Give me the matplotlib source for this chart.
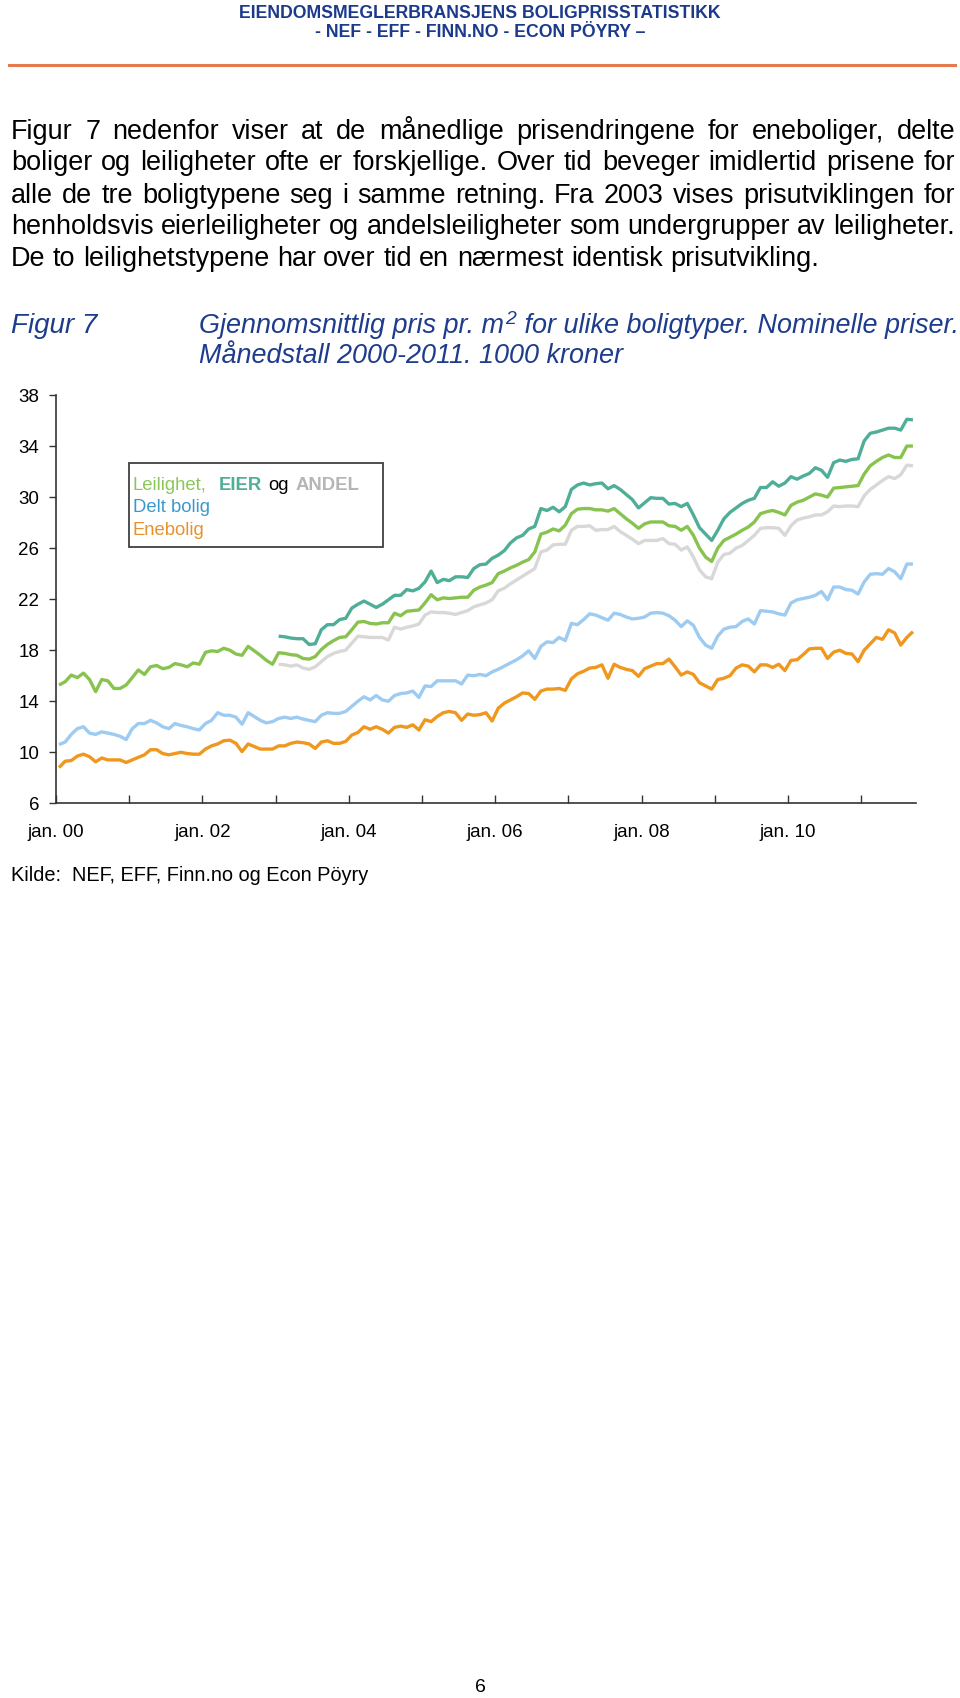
import matplotlib
matplotlib.use('Agg')
import matplotlib.pyplot as plt
from matplotlib.patches import Rectangle
from matplotlib.lines import Line2D

# ---------------- data (1000 kr per m2, monthly Jan 2000 - Sep 2011) ----------------
leilighet = [15.27,15.53,16.05,15.85,16.2,15.7,14.75,15.7,15.6,15.0,
             15.0,15.27,15.85,16.45,16.1,16.7,16.8,16.55,16.65,16.95,
             16.85,16.7,17.0,16.9,17.83,17.95,17.9,18.15,18.0,17.7,
             17.6,18.3,17.95,17.6,17.2,16.9,17.8,17.75,17.65,17.6,
             17.35,17.3,17.5,18.05,18.45,18.75,19.0,19.05,19.6,20.2,
             20.25,20.1,20.05,20.15,20.15,20.9,20.7,21.05,21.1,21.15,
             21.7,22.35,21.95,22.1,22.05,22.1,22.15,22.15,22.7,22.95,
             23.1,23.3,24.0,24.2,24.45,24.65,24.9,25.1,25.7,27.1,
             27.25,27.5,27.35,27.8,28.7,29.05,29.1,29.1,29.0,29.0,
             28.9,29.1,28.7,28.3,27.95,27.55,27.9,28.05,28.05,28.05,
             27.75,27.7,27.4,27.7,27.0,26.0,25.3,24.95,26.0,26.6,
             26.85,27.1,27.4,27.65,28.05,28.7,28.85,28.95,28.8,28.6,
             29.35,29.6,29.75,30.0,30.25,30.15,30.0,30.7,30.75,30.8,
             30.85,30.9,31.8,32.45,32.8,33.1,33.3,33.1,33.1,34.0,34.0]

eier_start = 36  # EIER / ANDEL series start Jan 2003
eier = [19.1,19.05,18.95,18.9,18.9,18.45,18.5,19.6,20.0,20.0,
        20.4,20.5,21.3,21.6,21.85,21.6,21.35,21.6,21.95,22.3,
        22.3,22.75,22.65,22.85,23.35,24.2,23.3,23.55,23.45,23.75,
        23.75,23.7,24.4,24.7,24.75,25.2,25.45,25.8,26.4,26.8,
        27.0,27.5,27.7,29.1,28.95,29.2,28.85,29.25,30.6,30.95,
        31.1,30.95,31.05,31.1,30.65,30.9,30.6,30.2,29.8,29.15,
        29.55,29.95,29.9,29.9,29.45,29.5,29.25,29.5,28.6,27.6,
        27.1,26.6,27.4,28.3,28.8,29.15,29.5,29.75,29.9,30.75,
        30.75,31.2,30.85,31.1,31.6,31.4,31.65,31.85,32.3,32.1,
        31.55,32.7,32.9,32.8,32.95,33.0,34.4,35.0,35.1,35.25,
        35.4,35.4,35.25,36.1,36.05]

andel = [16.9,16.85,16.75,16.85,16.6,16.5,16.7,17.1,17.5,17.75,
         17.9,18.0,18.55,19.1,19.05,19.0,19.0,19.0,18.8,19.8,
         19.65,19.8,19.9,20.05,20.75,21.0,20.95,20.95,20.9,20.8,
         20.95,21.1,21.4,21.55,21.7,21.95,22.65,22.85,23.2,23.5,
         23.8,24.1,24.4,25.7,25.85,26.25,26.3,26.3,27.4,27.7,
         27.7,27.75,27.4,27.45,27.45,27.7,27.3,27.0,26.7,26.35,
         26.6,26.6,26.6,26.75,26.35,26.3,25.85,26.1,25.3,24.3,
         23.75,23.6,24.9,25.5,25.6,26.0,26.2,26.6,27.0,27.55,
         27.6,27.6,27.55,27.0,27.75,28.2,28.35,28.45,28.6,28.6,
         28.85,29.3,29.25,29.3,29.3,29.25,30.1,30.6,30.95,31.3,
         31.6,31.45,31.75,32.5,32.45]

delt_bolig = [10.6,10.8,11.4,11.85,12.0,11.5,11.4,11.6,11.5,11.4,
              11.25,11.0,11.85,12.25,12.25,12.5,12.3,12.0,11.85,12.25,
              12.1,12.0,11.85,11.75,12.25,12.5,13.1,12.9,12.9,12.75,
              12.2,13.1,12.8,12.5,12.3,12.4,12.65,12.75,12.65,12.75,
              12.6,12.5,12.4,12.9,13.1,13.05,13.05,13.2,13.6,14.0,
              14.35,14.1,14.45,14.1,14.0,14.45,14.6,14.65,14.8,14.3,
              15.2,15.15,15.6,15.6,15.6,15.6,15.35,16.05,16.0,16.1,
              16.0,16.3,16.5,16.75,17.0,17.25,17.55,17.95,17.35,18.3,
              18.65,18.6,19.0,18.75,20.1,20.0,20.4,20.85,20.75,20.55,
              20.35,20.9,20.8,20.6,20.45,20.5,20.6,20.9,20.95,20.9,
              20.7,20.35,19.85,20.3,19.95,19.0,18.4,18.15,19.1,19.65,
              19.8,19.85,20.25,20.45,20.05,21.1,21.05,21.0,20.85,20.75,
              21.7,21.95,22.05,22.15,22.3,22.6,21.95,22.95,22.95,22.75,
              22.7,22.4,23.35,23.95,24.0,23.95,24.4,24.15,23.6,24.75,24.75]

enebolig = [8.8,9.3,9.35,9.7,9.85,9.65,9.25,9.55,9.4,9.4,
            9.4,9.2,9.4,9.6,9.8,10.2,10.2,9.9,9.8,9.9,
            10.0,9.9,9.85,9.85,10.25,10.5,10.65,10.9,10.95,10.7,
            10.05,10.65,10.45,10.25,10.25,10.25,10.5,10.5,10.7,10.8,
            10.75,10.65,10.3,10.8,10.9,10.7,10.7,10.85,11.35,11.55,
            12.0,11.8,12.0,11.8,11.5,11.95,12.05,11.95,12.15,11.75,
            12.55,12.4,12.8,13.1,13.2,13.1,12.5,13.0,12.9,12.95,
            13.1,12.45,13.45,13.85,14.1,14.35,14.65,14.6,14.15,14.8,
            14.95,14.95,15.0,14.85,15.75,16.15,16.35,16.6,16.65,16.85,
            15.8,16.9,16.65,16.5,16.4,15.95,16.55,16.75,16.95,16.95,
            17.3,16.7,16.05,16.3,16.1,15.45,15.2,14.95,15.7,15.8,
            16.0,16.6,16.85,16.75,16.3,16.85,16.85,16.65,16.9,16.4,
            17.2,17.25,17.65,18.1,18.15,18.15,17.35,17.85,18.0,17.75,
            17.7,17.1,18.0,18.5,19.0,18.85,19.6,19.35,18.4,19.0,19.45]

year_labels = ['jan. 00', '', 'jan. 02', '', 'jan. 04', '', 'jan. 06', '',
               'jan. 08', '', 'jan. 10', '']
y_ticks = [6, 10, 14, 18, 22, 26, 30, 34, 38]

# ---------------- figure ----------------
W, H = 960, 1698
plt.rcParams['font.family'] = ['Liberation Sans', 'DejaVu Sans']
fig = plt.figure(figsize=(W / 100, H / 100), dpi=100)
renderer = fig.canvas.get_renderer()


def fx(x):
    return x / W


def fy(y):
    return 1 - y / H


def txt(x, y, s, **kw):
    kw.setdefault('va', 'baseline')
    return fig.text(fx(x), fy(y), s, **kw)


def wpx(t):
    return t.get_window_extent(renderer).width


def fitted(x, y, s, target, size0, **kw):
    t = txt(x, y, s, fontsize=size0, **kw)
    t.set_fontsize(size0 * target / wpx(t))
    return t


NAVY = '#1B3A8C'

# header
fitted(480, 17.5, 'EIENDOMSMEGLERBRANSJENS BOLIGPRISSTATISTIKK', 481, 12,
       ha='center', color=NAVY, fontweight='bold',
       family=['Liberation Sans Narrow', 'Liberation Sans'])
fitted(480, 37, '- NEF - EFF - FINN.NO - ECON PÖYRY \u2013', 330, 12,
       ha='center', color=NAVY, fontweight='bold',
       family=['Liberation Sans Narrow', 'Liberation Sans'])
fig.add_artist(Line2D([fx(9), fx(955)], [fy(65), fy(65)], color='#E5794F',
                      lw=2.2, transform=fig.transFigure))

# body paragraph (justified)
body = ["Figur 7 nedenfor viser at de månedlige prisendringene for eneboliger, delte",
        "boliger og leiligheter ofte er forskjellige. Over tid beveger imidlertid prisene for",
        "alle de tre boligtypene seg i samme retning. Fra 2003 vises prisutviklingen for",
        "henholdsvis eierleiligheter og andelsleiligheter som undergrupper av leiligheter.",
        "De to leilighetstypene har over tid en nærmest identisk prisutvikling."]
probe = txt(0, 0, body[-1], fontsize=16)
body_fs = 16 * 808 / wpx(probe)
probe.remove()
L, R = 11, 955
baselines = [139, 170.5, 203, 234.5, 266]
for k, line in enumerate(body):
    words = line.split(' ')
    ts = [txt(0, baselines[k], w, fontsize=body_fs, color='black') for w in words]
    ws = [wpx(t) for t in ts]
    if k < len(body) - 1:
        gap = (R - L - sum(ws)) / (len(words) - 1)
    else:
        a = txt(0, 0, 'a a', fontsize=body_fs)
        b = txt(0, 0, 'aa', fontsize=body_fs)
        gap = wpx(a) - wpx(b)
        a.remove(); b.remove()
    x = L
    for t, w in zip(ts, ws):
        t.set_position((fx(x), fy(baselines[k])))
        x += w + gap

# figure title
TBLUE = '#1E3C8C'
txt(11, 333, 'Figur 7', fontsize=body_fs * 1.03, style='italic', color=TBLUE)
pa = txt(199, 333, 'Gjennomsnittlig pris pr. m', fontsize=body_fs,
         style='italic', color=TBLUE)
xa = 199 + wpx(pa)
sup = txt(xa + 1, 324, '2', fontsize=body_fs * 0.72, style='italic', color=TBLUE)
xb = xa + 1 + wpx(sup) + 1
txt(xb, 333, ' for ulike boligtyper. Nominelle priser.', fontsize=body_fs,
    style='italic', color=TBLUE)
txt(199, 363, 'Månedstall 2000-2011. 1000 kroner', fontsize=body_fs,
    style='italic', color=TBLUE)

# ---------------- chart ----------------
ax_left, ax_right, ax_top, ax_bot = 56, 916, 395, 803.3
ax = fig.add_axes([fx(ax_left), fy(ax_bot), (ax_right - ax_left) / W,
                   (ax_bot - ax_top) / H])
ax.patch.set_alpha(0)

C_GREEN = '#88C34F'
C_TEAL = '#4EAE98'
C_GREY = '#D8D8D8'
C_BLUE = '#9DCBF1'
C_ORANGE = '#F0971E'

x_all = [i + 0.5 for i in range(len(leilighet))]
x_sub = [i + eier_start + 0.5 for i in range(len(eier))]
lw = 2.4
kw = dict(lw=lw, solid_joinstyle='round', solid_capstyle='butt')
ax.plot(x_sub, andel, color=C_GREY, **kw)
ax.plot(x_all, delt_bolig, color=C_BLUE, **kw)
ax.plot(x_all, enebolig, color=C_ORANGE, **kw)
ax.plot(x_all, leilighet, color=C_GREEN, **kw)
ax.plot(x_sub, eier, color=C_TEAL, **kw)

ax.set_xlim(0, len(leilighet))
ax.set_ylim(6, 38)
ax.set_yticks(y_ticks)
ax.set_xticks([12 * k for k in range(len(year_labels))])
ax.set_xticklabels(year_labels)
for s in ['top', 'right']:
    ax.spines[s].set_visible(False)
for s in ['left', 'bottom']:
    ax.spines[s].set_color('#333333')
    ax.spines[s].set_linewidth(1.2)
ax.tick_params(axis='x', direction='in', length=6, width=1, color='#333333',
               pad=15, labelsize=13.5)
ax.tick_params(axis='y', direction='out', length=5, width=1, color='#333333',
               pad=7, labelsize=13.5)

# legend box with coloured text
fig.add_artist(Rectangle((fx(129), fy(547)), (383 - 129) / W, (547 - 463) / H,
                         transform=fig.transFigure, fill=False,
                         ec='#404040', lw=1.3))
lfs = 13.3
txt(133, 489.5, 'Leilighet,', fontsize=lfs, color='#8CC65A')
txt(219, 489.5, 'EIER', fontsize=lfs, color=C_TEAL, fontweight='bold')
txt(268, 489.5, 'og', fontsize=lfs, color='black')
txt(296, 489.5, 'ANDEL', fontsize=lfs, color='#B5B5B5', fontweight='bold')
txt(133, 512.5, 'Delt bolig', fontsize=lfs, color='#3A98CE')
txt(133, 535, 'Enebolig', fontsize=lfs, color='#E8922E')

# source and page number
fitted(11, 881, 'Kilde:  NEF, EFF, Finn.no og Econ Pöyry', 359, 13, color='black')
txt(480, 1692, '6', fontsize=14, ha='center', color='black')

fig.savefig('out.png', dpi=100)
